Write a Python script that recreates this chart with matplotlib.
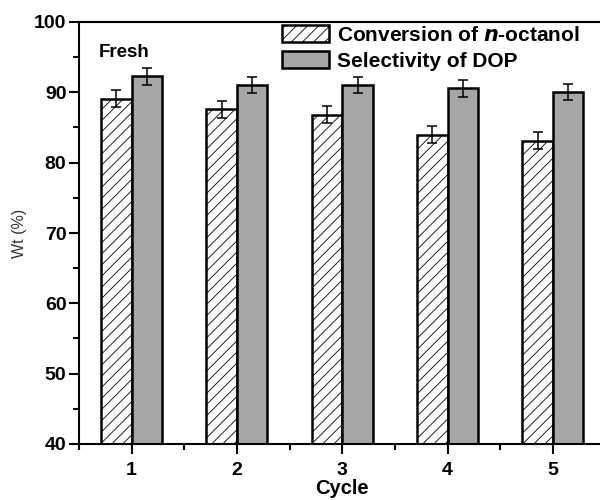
import matplotlib
matplotlib.use("Agg")
import matplotlib.pyplot as plt
import numpy as np
from matplotlib.ticker import MultipleLocator

plt.rcParams['font.family'] = ['Liberation Sans', 'DejaVu Sans']
plt.rcParams['hatch.color'] = '#8c8c8c'
plt.rcParams['hatch.linewidth'] = 0.6

cycles = [1, 2, 3, 4, 5]
conversion = [89.1, 87.6, 86.8, 84.0, 83.1]
conversion_err = [1.2, 1.2, 1.2, 1.2, 1.2]
selectivity = [92.3, 91.1, 91.0, 90.6, 90.0]
selectivity_err = [1.2, 1.15, 1.15, 1.2, 1.15]
labels = ["Conversion of $\\mathbfit{n}$-octanol", "Selectivity of DOP"]

W, H = 600, 500
fig = plt.figure(figsize=(6, 5), dpi=100)
ax = fig.add_axes([79/W, 56/H, 526.5/W, 422/H])

x = np.array(cycles, dtype=float)
w = 0.29
ekw = dict(elinewidth=1.1, capthick=1.1, ecolor='black')
ax.bar(x - w/2, conversion, w, color='white', edgecolor='black',
       linewidth=1.8, hatch='///', yerr=conversion_err, capsize=3.6,
       error_kw=ekw, label=labels[0])
ax.bar(x + w/2, selectivity, w, color='#a6a6a6', edgecolor='black',
       linewidth=1.8, yerr=selectivity_err, capsize=3.6,
       error_kw=ekw, label=labels[1])

ax.set_ylim(40, 100)
ax.set_xlim(0.5, 5.5)
ax.set_xticks(cycles)
ax.xaxis.set_minor_locator(MultipleLocator(0.5))
ax.yaxis.set_major_locator(MultipleLocator(10))
ax.yaxis.set_minor_locator(MultipleLocator(5))
ax.tick_params(which='major', direction='out', length=7, width=1.5, labelsize=14)
ax.tick_params(which='minor', direction='out', length=4, width=1.5)
ax.tick_params(axis='x', which='major', pad=6)
ax.tick_params(axis='y', which='major', pad=2)
for lab in ax.get_xticklabels() + ax.get_yticklabels():
    lab.set_fontweight('bold')
for s in ['left', 'bottom', 'top']:
    ax.spines[s].set_linewidth(1.5)
ax.spines['right'].set_visible(False)

ax.set_xlabel('Cycle', fontsize=14.5, fontweight='bold', labelpad=0)
ax.set_ylabel('Wt (%)', fontsize=11.5, labelpad=5, color='#333333')

ax.text(0.93, 95.7, 'Fresh', fontsize=13.5, fontweight='bold', ha='center', va='center')

leg = ax.legend(loc='upper left', bbox_to_anchor=(282/W, 1 - 25/H),
                bbox_transform=fig.transFigure, frameon=False,
                prop=dict(size=15, weight='bold'), handlelength=2.25, handleheight=0.88,
                labelspacing=0.3, handletextpad=0.4, borderaxespad=0, borderpad=0)

fig.savefig('out.png', dpi=100)
